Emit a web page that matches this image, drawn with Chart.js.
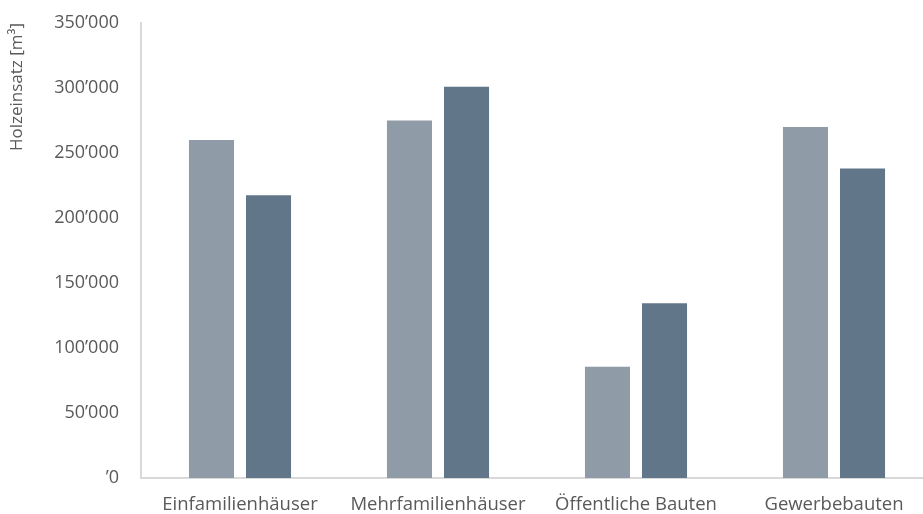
<!DOCTYPE html>
<html>
<head>
<meta charset="utf-8">
<script src="https://cdn.jsdelivr.net/npm/chart.js@4/dist/chart.umd.min.js"></script>
<style>
  html, body { margin: 0; padding: 0; background: #ffffff; overflow: hidden; }
  #wrap { width: 923px; height: 514px; overflow: hidden; position: relative; }
  canvas { display: block; }
</style>
</head>
<body>
<div id="wrap"><canvas id="c" width="935" height="514"></canvas></div>
<script>
const categories = ["Einfamilienhäuser", "Mehrfamilienhäuser", "Öffentliche Bauten", "Gewerbebauten"];
const series1 = [260000, 275000, 85500, 270000];
const series2 = [217500, 301000, 134500, 238000];
const yTicks = [0, 50000, 100000, 150000, 200000, 250000, 300000, 350000];
const yTitle = "Holzeinsatz [m³]";

function fmt(v) {
  if (v === 0) return "’0";
  return (v / 1000) + "’000";
}

const textColor = "#595959";
const axisColor = "#d9d9d9";
const fontFamily = "'Open Sans', sans-serif";

new Chart(document.getElementById("c"), {
  type: "bar",
  data: {
    labels: categories,
    datasets: [
      { label: "Reihe 1", data: series1, backgroundColor: "#8f9ca8", borderWidth: 0,
        categoryPercentage: 0.576, barPercentage: 0.79 },
      { label: "Reihe 2", data: series2, backgroundColor: "#627689", borderWidth: 0,
        categoryPercentage: 0.576, barPercentage: 0.79 }
    ]
  },
  options: {
    responsive: false,
    animation: false,
    layout: { padding: { top: 23, right: 2, bottom: 0, left: 0 } },
    plugins: { legend: { display: false }, tooltip: { enabled: false } },
    scales: {
      x: {
        grid: { display: false, drawTicks: false },
        border: { display: true, color: axisColor, width: 2 },
        ticks: { color: textColor, font: { family: fontFamily, size: 18.5 }, padding: 16, maxRotation: 0 },
        afterFit: (s) => { s.height = 36; s.paddingLeft = 0; s.paddingRight = 0; }
      },
      y: {
        min: 0, max: 350000,
        afterBuildTicks: (s) => { s.ticks = yTicks.map(v => ({ value: v })); },
        grid: { display: false, drawTicks: false },
        border: { display: true, color: axisColor, width: 2 },
        ticks: { color: textColor, font: { family: fontFamily, size: 18 }, padding: 22,
                 callback: (v) => fmt(v) },
        title: { display: true, text: yTitle, align: "end", color: textColor,
                 font: { family: fontFamily, size: 17 }, padding: { top: 7, bottom: 0 } },
        afterFit: (s) => { s.width = 141; s.paddingTop = 0; s.paddingBottom = 0; }
      }
    }
  }
});
</script>
</body>
</html>
